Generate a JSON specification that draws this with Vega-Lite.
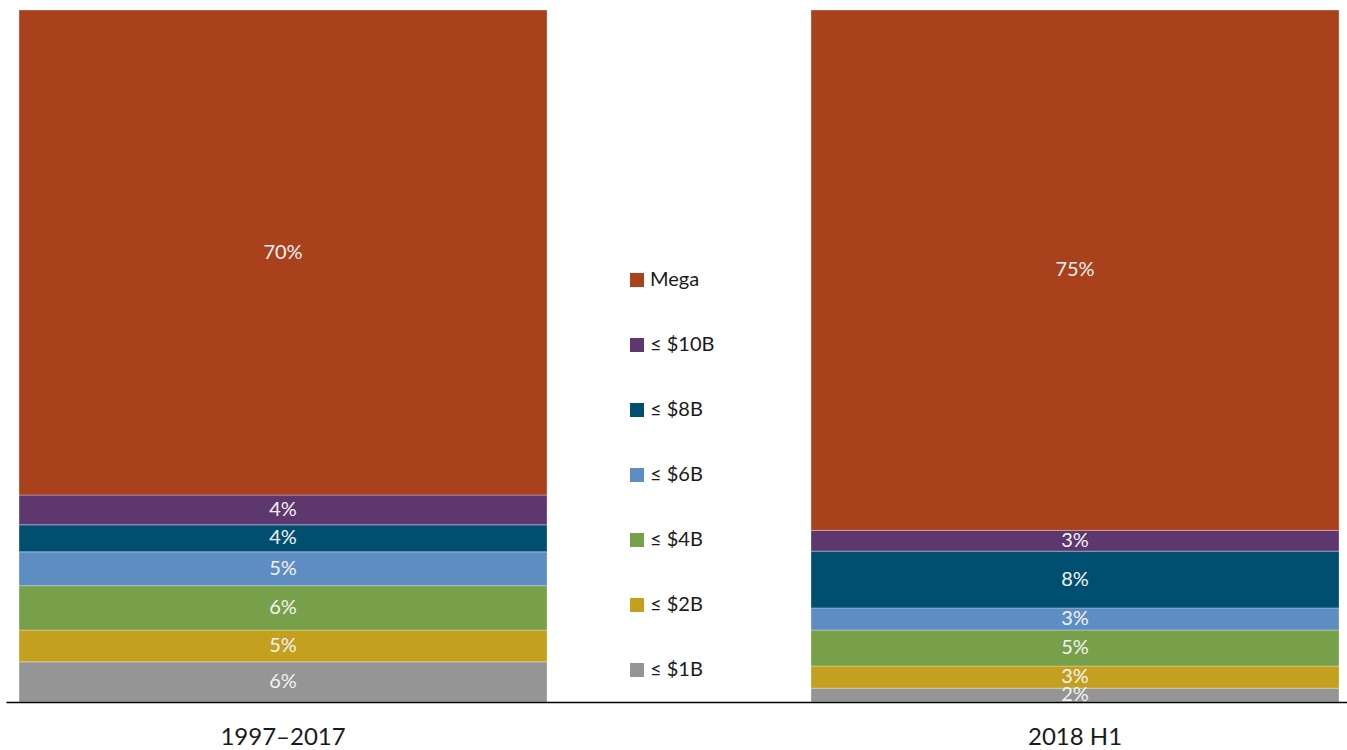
{
  "$schema": "https://vega.github.io/schema/vega-lite/v6.json",
  "width": 1341,
  "height": 692,
  "padding": {"left": 6, "top": 10, "right": 0, "bottom": 48},
  "autosize": {"type": "none"},
  "background": "white",
  "config": {"view": {"stroke": null}, "font": "Lato"},
  "data": {"values": [
    {"period": "1997–2017", "size": "≤ $1B", "rank": 1, "share": 0.058},
    {"period": "1997–2017", "size": "≤ $2B", "rank": 2, "share": 0.046},
    {"period": "1997–2017", "size": "≤ $4B", "rank": 3, "share": 0.064},
    {"period": "1997–2017", "size": "≤ $6B", "rank": 4, "share": 0.049},
    {"period": "1997–2017", "size": "≤ $8B", "rank": 5, "share": 0.039},
    {"period": "1997–2017", "size": "≤ $10B", "rank": 6, "share": 0.043},
    {"period": "1997–2017", "size": "Mega", "rank": 7, "share": 0.701},
    {"period": "2018 H1", "size": "≤ $1B", "rank": 1, "share": 0.020},
    {"period": "2018 H1", "size": "≤ $2B", "rank": 2, "share": 0.032},
    {"period": "2018 H1", "size": "≤ $4B", "rank": 3, "share": 0.052},
    {"period": "2018 H1", "size": "≤ $6B", "rank": 4, "share": 0.032},
    {"period": "2018 H1", "size": "≤ $8B", "rank": 5, "share": 0.082},
    {"period": "2018 H1", "size": "≤ $10B", "rank": 6, "share": 0.030},
    {"period": "2018 H1", "size": "Mega", "rank": 7, "share": 0.752}
  ]},
  "transform": [
    {"stack": "share", "groupby": ["period"], "sort": [{"field": "rank", "order": "ascending"}], "as": ["y0", "y1"]},
    {"calculate": "(datum.y0 + datum.y1) / 2", "as": "ymid"}
  ],
  "encoding": {
    "x": {
      "field": "period", "type": "nominal", "sort": null,
      "scale": {"paddingInner": 0.3333, "paddingOuter": 0.01326, "align": 0.62},
      "axis": {
        "title": null, "ticks": false, "domainColor": "#000000", "domainWidth": 1.5,
        "labelFontSize": 24, "labelColor": "#1a1a1a", "labelPadding": 23, "labelAngle": 0,
        "labelFont": "Lato", "zindex": 1
      }
    }
  },
  "layer": [
    {
      "mark": {"type": "bar", "stroke": "#ffffff", "strokeWidth": 0.6, "strokeOpacity": 0.5},
      "encoding": {
        "y": {"field": "y0", "type": "quantitative", "scale": {"domain": [0, 1], "nice": false}, "axis": null},
        "y2": {"field": "y1"},
        "color": {
          "field": "size", "type": "nominal",
          "scale": {
            "domain": ["Mega", "≤ $10B", "≤ $8B", "≤ $6B", "≤ $4B", "≤ $2B", "≤ $1B"],
            "range": ["#A9411D", "#5E376F", "#014F70", "#5E8DC4", "#789F4A", "#C3A020", "#959595"]
          },
          "legend": {
            "title": null, "orient": "none", "legendX": 621, "legendY": 260,
            "symbolType": "square", "symbolSize": 196, "symbolStrokeWidth": 0, "symbolOpacity": 1,
            "labelFontSize": 20, "labelColor": "#1a1a1a", "labelFont": "Lato", "labelOffset": 3,
            "rowPadding": 45, "labelLimit": 200
          }
        }
      }
    },
    {
      "mark": {"type": "text", "fontSize": 20, "color": "#f2f2f2", "baseline": "middle", "align": "center", "font": "Lato"},
      "encoding": {
        "y": {"field": "ymid", "type": "quantitative"},
        "text": {"field": "share", "type": "quantitative", "format": ".0%"}
      }
    }
  ]
}
